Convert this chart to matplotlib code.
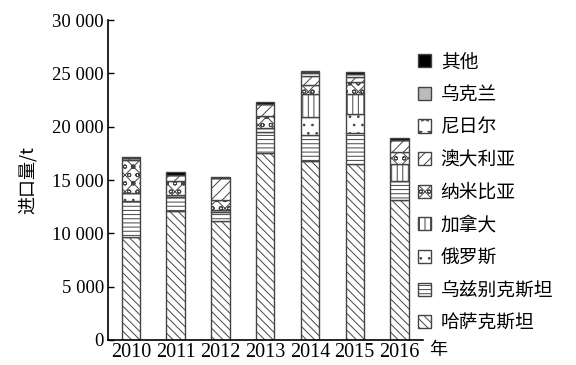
import matplotlib
matplotlib.use('Agg')
import matplotlib.pyplot as plt
from matplotlib.patches import Patch
from matplotlib.ticker import FuncFormatter
import numpy as np

plt.rcParams['font.family'] = ['Noto Sans CJK SC', 'DejaVu Sans']
plt.rcParams['hatch.linewidth'] = 0.7
plt.rcParams['hatch.color'] = '#333333'

years = ['2010', '2011', '2012', '2013', '2014', '2015', '2016']

# import volume by source country, t (bottom of the stack first)
kazakhstan = [9700, 12050, 11200, 17550, 16750, 16500, 13150]
uzbekistan = [3350, 1350, 800, 1950, 2500, 2950, 1750]
russia = [700, 200, 150, 400, 1650, 1700, 0]
canada = [0, 0, 0, 0, 2150, 1900, 1600]
namibia = [3150, 1300, 1000, 1100, 900, 1100, 1100]
australia = [200, 600, 2000, 1150, 850, 550, 1200]
niger = [0, 0, 0, 0, 200, 200, 0]
ukraine = [0, 0, 0, 0, 100, 0, 0]
others = [100, 250, 100, 150, 100, 200, 100]

names = ['哈萨克斯坦', '乌兹别克斯坦', '俄罗斯', '加拿大', '纳米比亚',
         '澳大利亚', '尼日尔', '乌克兰', '其他']
series = [kazakhstan, uzbekistan, russia, canada, namibia,
          australia, niger, ukraine, others]
hatches = ['\\\\\\\\', '----', '..', '|||', 'xxoo', '///', '*', '', '']
fills = ['white'] * 7 + ['#bbbbbb', 'black']

fig = plt.figure(figsize=(5.76, 3.65), dpi=100)
ax = fig.add_axes([0.1875, 0.0685, 0.5465, 0.8765])

x = np.arange(len(years))
bottom = np.zeros(len(years))
handles = []
for name, vals, h, fc in zip(names, series, hatches, fills):
    vals = np.array(vals, dtype=float)
    ax.bar(x, vals, 0.41, bottom=bottom, color=fc, hatch=h,
           edgecolor='#444444', linewidth=1.0)
    bottom += vals
    handles.append(Patch(facecolor=fc, hatch=h, edgecolor='#444444',
                         linewidth=1.0, label=name))

ax.set_xlim(-0.51, 6.52)
ax.set_ylim(0, 30000)
ax.set_yticks(np.arange(0, 30001, 5000))
ax.yaxis.set_major_formatter(FuncFormatter(lambda v, p: f'{int(v):,}'.replace(',', ' ')))
ax.set_xticks(x)
ax.set_xticklabels(years)
ax.tick_params(axis='y', direction='in', length=4, width=1, pad=3, labelsize=13.5)
ax.tick_params(axis='x', length=0, pad=2, labelsize=14.5)
for lab in ax.get_xticklabels() + ax.get_yticklabels():
    lab.set_family('Liberation Serif')
ax.spines['top'].set_visible(False)
ax.spines['right'].set_visible(False)
ax.spines['left'].set_linewidth(1.2)
ax.spines['bottom'].set_linewidth(1.2)

ax.set_ylabel('进口量/t', fontsize=13, labelpad=11)
fig.text(0.76, 0.041, '年', fontsize=13, ha='center', va='center')

fig.legend(handles=handles[::-1], loc='upper left', bbox_to_anchor=(0.713, 0.88),
           frameon=False, fontsize=13.5, handlelength=0.7, handleheight=0.7,
           handletextpad=0.5, labelspacing=0.62, borderaxespad=0)

fig.savefig('out.png', dpi=100)
